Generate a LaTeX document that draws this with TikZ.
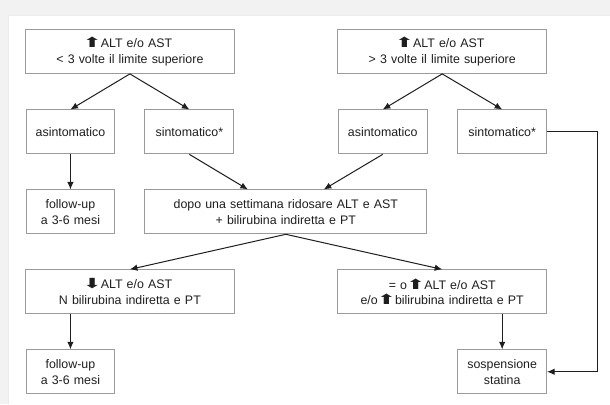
\documentclass[tikz,border=0pt]{standalone}
\usepackage{fontspec}
\setmainfont{Liberation Sans}
\newfontfamily\symfont{DejaVu Sans}
\usetikzlibrary{arrows.meta,calc}
\definecolor{boxline}{HTML}{9A9A9A}
\definecolor{ink}{HTML}{1E1E1E}
\definecolor{bggray}{HTML}{F2F2F2}
\newcommand{\up}{\makebox[9pt]{\symfont\fontsize{17}{10}\selectfont\scalebox{1.35}[0.82]{⬆}}}
\newcommand{\dn}{\makebox[9pt]{\symfont\fontsize{17}{10}\selectfont\scalebox{1.35}[0.82]{⬇}}}
\tikzset{
  box/.style={draw=boxline, line width=0.9pt, fill=white, text=ink,
    align=center, inner sep=0pt, minimum height=44pt,
    font=\fontsize{12.4}{16}\selectfont},
  small/.style={box, minimum width=89pt, text width=85pt},
  wide/.style={box, minimum width=209pt, text width=205pt},
  conn/.style={draw=ink, line width=1pt, -{Latex[length=7.5pt,width=6.5pt]}},
}
\begin{document}
\begin{tikzpicture}[x=1pt,y=-1pt]
\fill[bggray] (0,0) rectangle (610,404);
\fill[white] (8,15) rectangle (610,404);
\draw[black!8, line width=0.8pt] (8,404) -- (8,15) -- (610,15);
\useasboundingbox (0,0) rectangle (610,404);

\node[wide]  (A1) at (130,51.5)   {\up\ ALT e/o AST\\< 3 volte il limite superiore};
\node[wide]  (A2) at (442.5,51.5) {\up\ ALT e/o AST\\> 3 volte il limite superiore};
\node[small] (B1) at (70.5,132)   {asintomatico};
\node[small] (B2) at (189.5,132)  {sintomatico*};
\node[small] (B3) at (383,132)    {asintomatico};
\node[small] (B4) at (502.5,132)  {sintomatico*};
\node[small] (C1) at (70.5,212)   {follow-up\\a 3-6 mesi};
\node[box, minimum width=282pt, text width=278pt] (C2) at (286,212)
  {dopo una settimana ridosare ALT e AST\\+ bilirubina indiretta e PT};
\node[wide]  (D1) at (130,292)    {\dn\ ALT e/o AST\\N bilirubina indiretta e PT};
\node[wide]  (D2) at (442.5,292)  {= o \up\ ALT e/o AST\\e/o \up\ bilirubina indiretta e PT};
\node[small] (E1) at (70.5,372)   {follow-up\\a 3-6 mesi};
\node[small] (E2) at (502.5,372)  {sospensione\\statina};

\coordinate (R) at (598,132);

\draw[conn] (A1.south) -- (B1.north);
\draw[conn] (A1.south) -- (B2.north);
\draw[conn] (A2.south) -- (B3.north);
\draw[conn] (A2.south) -- (B4.north);
\draw[conn] (B1.south) -- (C1.north);
\draw[conn] (B2.south) -- ([xshift=-38pt]C2.north);
\draw[conn] (B3.south) -- ([xshift=38pt]C2.north);
\draw[conn] (C2.south) -- (D1.north);
\draw[conn] (C2.south) -- (D2.north);
\draw[conn] (E1.north |- D1.south) -- (E1.north);
\draw[conn] (E2.north |- D2.south) -- (E2.north);
\draw[conn] (B4.east) -- (R) |- (E2.east);
\end{tikzpicture}
\end{document}
